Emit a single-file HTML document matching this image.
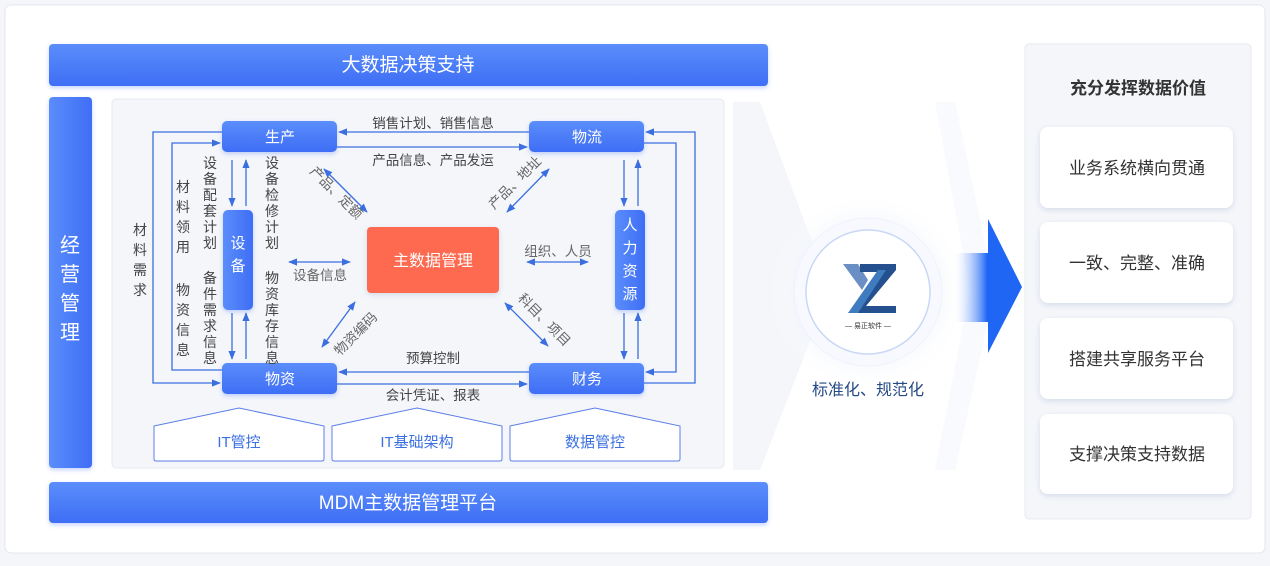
<!DOCTYPE html>
<html><head><meta charset="utf-8"><style>
body{margin:0;width:1270px;height:561px;background:#f5f6f9;font-family:"Liberation Sans","Noto Sans CJK SC",sans-serif;overflow:hidden}
svg text{font-family:"Liberation Sans","Noto Sans CJK SC",sans-serif}
</style></head><body>
<svg width="1270" height="561" viewBox="0 0 1270 561" xmlns="http://www.w3.org/2000/svg">
<defs>
<linearGradient id="bar" x1="0" y1="0" x2="0" y2="1"><stop offset="0" stop-color="#5b8dfb"/><stop offset="1" stop-color="#3e6ef5"/></linearGradient>
<linearGradient id="vbar" x1="0" y1="0" x2="1" y2="0"><stop offset="0" stop-color="#5b8dfb"/><stop offset="1" stop-color="#3e6ef5"/></linearGradient>
<linearGradient id="arr" x1="0" y1="0" x2="1" y2="0"><stop offset="0" stop-color="#ffffff" stop-opacity="0.2"/><stop offset="1" stop-color="#1560f5"/></linearGradient>
<radialGradient id="glow" cx="0.5" cy="0.5" r="0.5"><stop offset="0.5" stop-color="#e8eefb"/><stop offset="1" stop-color="#ffffff" stop-opacity="0"/></radialGradient>
<marker id="a" viewBox="0 0 10 10" refX="9" refY="5" markerWidth="7" markerHeight="7" orient="auto-start-reverse"><path d="M0,1 L10,5 L0,9z" fill="#3b6fe0"/></marker>
<filter id="sh" x="-20%" y="-20%" width="140%" height="160%"><feDropShadow dx="0" dy="2" stdDeviation="2" flood-color="#3e6ef5" flood-opacity="0.3"/></filter>
<filter id="sh2" x="-20%" y="-20%" width="140%" height="140%"><feDropShadow dx="0" dy="2" stdDeviation="3" flood-color="#9aa8c8" flood-opacity="0.35"/></filter>
</defs>
<rect x="5" y="5" width="1260" height="548" rx="6" fill="#fff" stroke="#e3e7ee"/>
<rect x="49" y="44" width="719" height="42" rx="4" fill="url(#bar)" filter="url(#sh)"/>
<text x="408" y="71" font-size="19" fill="#fff" text-anchor="middle">大数据决策支持</text>
<rect x="49" y="482" width="719" height="41" rx="4" fill="url(#bar)" filter="url(#sh)"/>
<text x="408" y="509" font-size="19" fill="#fff" text-anchor="middle">MDM主数据管理平台</text>
<rect x="49" y="97" width="43" height="371" rx="4" fill="url(#vbar)" filter="url(#sh)"/>
<g font-size="20" fill="#fff" text-anchor="middle"><text x="70" y="252">经</text><text x="70" y="281">营</text><text x="70" y="310">管</text><text x="70" y="339">理</text></g>
<rect x="112" y="99" width="612" height="369" rx="4" fill="#f4f6fa" stroke="#e6e9ef"/>
<g stroke="#3b6fe0" stroke-width="1.3" fill="none">
<polyline points="222,132 153,132 153,383 220,383" marker-end="url(#a)"/>
<polyline points="222,370 172,370 172,143 220,143" marker-end="url(#a)"/>
<polyline points="644,383 695,383 695,132 646,132" marker-end="url(#a)"/>
<polyline points="644,143 676,143 676,372 646,372" marker-end="url(#a)"/>
<line x1="529" y1="132" x2="339" y2="132" marker-end="url(#a)"/>
<line x1="337" y1="147" x2="527" y2="147" marker-end="url(#a)"/>
<line x1="529" y1="372" x2="339" y2="372" marker-end="url(#a)"/>
<line x1="337" y1="384" x2="527" y2="384" marker-end="url(#a)"/>
<line x1="232" y1="160" x2="232" y2="206" marker-end="url(#a)"/>
<line x1="246" y1="206" x2="246" y2="160" marker-end="url(#a)"/>
<line x1="232" y1="313" x2="232" y2="359" marker-end="url(#a)"/>
<line x1="246" y1="359" x2="246" y2="313" marker-end="url(#a)"/>
<line x1="624" y1="160" x2="624" y2="206" marker-end="url(#a)"/>
<line x1="638" y1="206" x2="638" y2="160" marker-end="url(#a)"/>
<line x1="624" y1="313" x2="624" y2="359" marker-end="url(#a)"/>
<line x1="638" y1="359" x2="638" y2="313" marker-end="url(#a)"/>
<line x1="324" y1="169" x2="367" y2="212" marker-start="url(#a)" marker-end="url(#a)"/>
<line x1="289" y1="262" x2="350" y2="262" marker-start="url(#a)" marker-end="url(#a)"/>
<line x1="355" y1="302" x2="322" y2="347" marker-start="url(#a)" marker-end="url(#a)"/>
<line x1="549" y1="169" x2="507" y2="212" marker-start="url(#a)" marker-end="url(#a)"/>
<line x1="527" y1="262" x2="588" y2="262" marker-start="url(#a)" marker-end="url(#a)"/>
<line x1="505" y1="303" x2="548" y2="346" marker-start="url(#a)" marker-end="url(#a)"/>
</g>
<g filter="url(#sh)">
<rect x="222" y="121" width="115" height="31" rx="5" fill="url(#bar)"/>
<rect x="529" y="121" width="115" height="31" rx="5" fill="url(#bar)"/>
<rect x="222" y="363" width="115" height="31" rx="5" fill="url(#bar)"/>
<rect x="529" y="363" width="115" height="31" rx="5" fill="url(#bar)"/>
<rect x="223" y="210" width="30" height="100" rx="5" fill="url(#vbar)"/>
<rect x="615" y="210" width="30" height="100" rx="5" fill="url(#vbar)"/>
</g>
<rect x="367" y="227" width="132" height="66" rx="4" fill="#fd6b50" filter="url(#sh2)"/>
<g fill="#fff" font-size="15" text-anchor="middle">
<text x="280" y="142">生产</text><text x="587" y="142">物流</text>
<text x="280" y="384">物资</text><text x="587" y="384">财务</text>
<text x="238" y="248">设</text><text x="238" y="271">备</text>
<text x="630" y="230">人</text><text x="630" y="253">力</text><text x="630" y="276">资</text><text x="630" y="299">源</text>
<text x="433" y="266" font-size="16">主数据管理</text>
</g>
<g fill="#444" font-size="13.5" text-anchor="middle">
<text x="433" y="128">销售计划、销售信息</text>
<text x="433" y="165">产品信息、产品发运</text>
<text x="433" y="363">预算控制</text>
<text x="433" y="400">会计凭证、报表</text>
<text x="320" y="280" fill="#666">设备信息</text>
<text x="558" y="256" fill="#666">组织、人员</text>
<text transform="translate(333,196) rotate(45)" fill="#666">产品、定额</text>
<text transform="translate(518,186) rotate(-45)" fill="#666">产品、地址</text>
<text transform="translate(359,337) rotate(-45)" fill="#666">物资编码</text>
<text transform="translate(541,323) rotate(45)" fill="#666">科目、项目</text>
</g>
<g fill="#444" font-size="14" text-anchor="middle">
<text x="140" y="235">材</text><text x="140" y="255">料</text><text x="140" y="275">需</text><text x="140" y="295">求</text>
<text x="183" y="192">材</text><text x="183" y="212">料</text><text x="183" y="232">领</text><text x="183" y="252">用</text>
<text x="183" y="295">物</text><text x="183" y="315">资</text><text x="183" y="335">信</text><text x="183" y="355">息</text>
<text x="210" y="168">设</text><text x="210" y="184">备</text><text x="210" y="200">配</text><text x="210" y="216">套</text><text x="210" y="232">计</text><text x="210" y="248">划</text>
<text x="210" y="283">备</text><text x="210" y="299">件</text><text x="210" y="315">需</text><text x="210" y="331">求</text><text x="210" y="347">信</text><text x="210" y="363">息</text>
<text x="272" y="168">设</text><text x="272" y="184">备</text><text x="272" y="200">检</text><text x="272" y="216">修</text><text x="272" y="232">计</text><text x="272" y="248">划</text>
<text x="272" y="283">物</text><text x="272" y="299">资</text><text x="272" y="315">库</text><text x="272" y="331">存</text><text x="272" y="347">信</text><text x="272" y="363">息</text>
</g>
<g fill="#fff" stroke="#5b7fe8" stroke-width="1">
<path d="M154,426 L239,408 L324,426 L324,459 Q324,461 322,461 L156,461 Q154,461 154,459Z"/>
<path d="M332,426 L417,408 L502,426 L502,459 Q502,461 500,461 L334,461 Q332,461 332,459Z"/>
<path d="M510,426 L595,408 L680,426 L680,459 Q680,461 678,461 L512,461 Q510,461 510,459Z"/>
</g>
<g fill="#3b6fe0" font-size="15" text-anchor="middle"><text x="239" y="447">IT管控</text><text x="417" y="447">IT基础架构</text><text x="595" y="447">数据管控</text></g>
<path d="M733,102 L760,102 L830,290 L760,470 L733,470Z" fill="#f4f6fa"/>
<path d="M935,102 L955,102 L995,290 L955,470 L935,470 L970,290Z" fill="#f9fafd"/>
<circle cx="868" cy="292" r="100" fill="url(#glow)"/>
<circle cx="868" cy="292" r="74" fill="#f7f9fe" stroke="#eef2fb"/>
<circle cx="868" cy="292" r="62" fill="#fff" stroke="#c9d8f6" stroke-width="1.5"/>
<path d="M843,264 L858,264 L868,280 L862,290Z" fill="#6a8fc4"/>
<path d="M860,264 L896,264 L896,270 L866,306 L896,306 L896,313 L855,313 L855,307 L884,272 L860,272Z" fill="#25508f"/>
<path d="M848,313 L878,270 L886,270 L858,313Z" fill="#3f7bbf"/>
<text x="868" y="328" font-size="7" fill="#333" text-anchor="middle">— 易正软件 —</text>
<text x="868" y="395" font-size="16" fill="#254a86" text-anchor="middle">标准化、规范化</text>
<rect x="955" y="253" width="33" height="69" fill="url(#arr)"/>
<path d="M988,219 L1022,287 L988,353Z" fill="#1f66f5"/>
<rect x="1025" y="44" width="226" height="475" rx="4" fill="#f4f6fa" stroke="#e6e9ef"/>
<text x="1138" y="94" font-size="17" font-weight="bold" fill="#333" text-anchor="middle">充分发挥数据价值</text>
<g fill="#fff" filter="url(#sh2)">
<rect x="1040" y="127" width="193" height="81" rx="8"/>
<rect x="1040" y="222" width="193" height="81" rx="8"/>
<rect x="1040" y="318" width="193" height="81" rx="8"/>
<rect x="1040" y="414" width="193" height="80" rx="8"/>
</g>
<g fill="#333" font-size="17" text-anchor="middle">
<text x="1137" y="174">业务系统横向贯通</text>
<text x="1137" y="269">一致、完整、准确</text>
<text x="1137" y="365">搭建共享服务平台</text>
<text x="1137" y="460">支撑决策支持数据</text>
</g>
</svg>
</body></html>
